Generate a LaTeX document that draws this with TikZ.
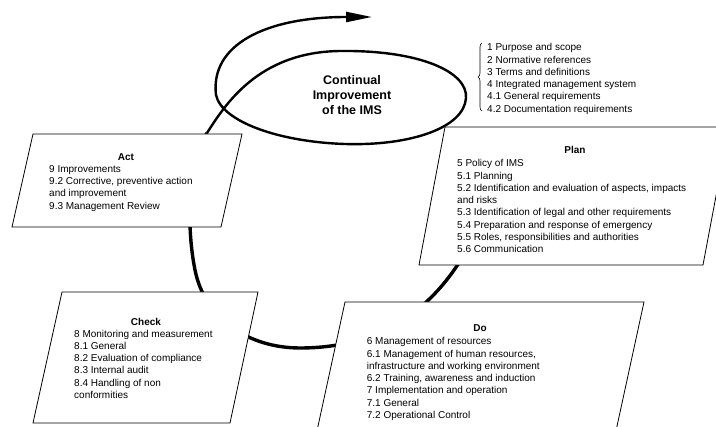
\documentclass[tikz,border=0pt]{standalone}
\usepackage{fontspec}
\setmainfont{Liberation Sans}
\usetikzlibrary{arrows.meta,decorations.pathreplacing}

\begin{document}
\begin{tikzpicture}[x=1pt,y=-1pt,
    box/.style={draw=black, line width=0.8pt, fill=white},
    cycleline/.style={line width=3.4pt},
    spiral/.style={line width=2.4pt, -{Triangle[length=26pt,width=10pt]}},
    head/.style={font=\fontsize{10}{12.3}\selectfont\bfseries, inner sep=0pt},
    items/.style={font=\fontsize{10}{12.3}\selectfont, align=left, anchor=north west, inner sep=0pt},
    title/.style={font=\fontsize{12.5}{15}\selectfont\bfseries, align=center, inner sep=0pt}
  ]
  \useasboundingbox (0,0) rectangle (716,427);
  \clip (0,0) rectangle (716,427);

  % corners of the four boxes
  \coordinate (act1) at (33,134);  \coordinate (act2) at (242,134);
  \coordinate (act3) at (221,227); \coordinate (act4) at (12,227);
  \coordinate (chk1) at (62,292);  \coordinate (chk2) at (258,292);
  \coordinate (chk3) at (230,423); \coordinate (chk4) at (33,423);
  \coordinate (do1) at (345,302);  \coordinate (do2) at (644,302);
  \coordinate (do3) at (614,440);  \coordinate (do4) at (315,440);
  \coordinate (pln1) at (445,127); \coordinate (pln2) at (729,127);
  \coordinate (pln3) at (703,265); \coordinate (pln4) at (419,265);

  % the cycle and the spiral
  \coordinate (start) at (462,258);
  \coordinate (bottom) at (300,348);
  \coordinate (left) at (195,270);
  \coordinate (join) at (207,133);
  \coordinate (top) at (340,51);
  \coordinate (east) at (466,98);
  \coordinate (south) at (345,144);
  \coordinate (west) at (216,95);
  \coordinate (tip) at (372,17);

  \draw[cycleline] (start) .. controls (430,310) and (380,348) .. (bottom)
    .. controls (250,348) and (205,320) .. (left)
    .. controls (185,220) and (190,160) .. (join);
  \draw[spiral] (join) .. controls (225,105) and (258,52) .. (top)
    .. controls (420,50) and (468,72) .. (east)
    .. controls (464,128) and (410,146) .. (south)
    .. controls (280,142) and (222,122) .. (west)
    .. controls (210,45) and (265,17) .. (tip);

  \node[title] (ci) at (352,95) {Continual\\Improvement\\of the IMS};

  % boxes
  \draw[box] (act1) -- (act2) -- (act3) -- (act4) -- cycle;
  \draw[box] (chk1) -- (chk2) -- (chk3) -- (chk4) -- cycle;
  \draw[box] (do1) -- (do2) -- (do3) -- (do4) -- cycle;
  \draw[box] (pln1) -- (pln2) -- (pln3) -- (pln4) -- cycle;

  \node[head] (acthead) at (126,157) {Act};
  \node[items] (actlist) at (49,165) {9 Improvements\\9.2 Corrective, preventive action\\and improvement\\9.3 Management Review};

  \node[head] (chkhead) at (146,322) {Check};
  \node[items] (chklist) at (74,329.6) {8 Monitoring and measurement\\8.1 General\\8.2 Evaluation of compliance\\8.3 Internal audit\\8.4 Handling of non\\conformities};

  \node[head] (dohead) at (480,328) {Do};
  \node[items] (dolist) at (366.7,337.3) {6 Management of resources\\6.1 Management of human resources,\\infrastructure and working environment\\6.2 Training, awareness and induction\\7 Implementation and operation\\7.1 General\\7.2 Operational Control};

  \node[head] (plnhead) at (575,150) {Plan};
  \node[items] (plnlist) at (457,159.3) {5 Policy of IMS\\5.1 Planning\\5.2 Identification and evaluation of aspects, impacts\\and risks\\5.3 Identification of legal and other requirements\\5.4 Preparation and response of emergency\\5.5 Roles, responsibilities and authorities\\5.6 Communication};

  % general clauses
  \coordinate (br1) at (482,111);
  \coordinate (br2) at (482,43);
  \draw[decorate, decoration={brace, amplitude=4pt}, line width=0.6pt] (br1) -- (br2);
  \node[items] (gen) at (487,43.3) {1 Purpose and scope\\2 Normative references\\3 Terms and definitions\\4 Integrated management system\\4.1 General requirements\\4.2 Documentation requirements};
\end{tikzpicture}
\end{document}
